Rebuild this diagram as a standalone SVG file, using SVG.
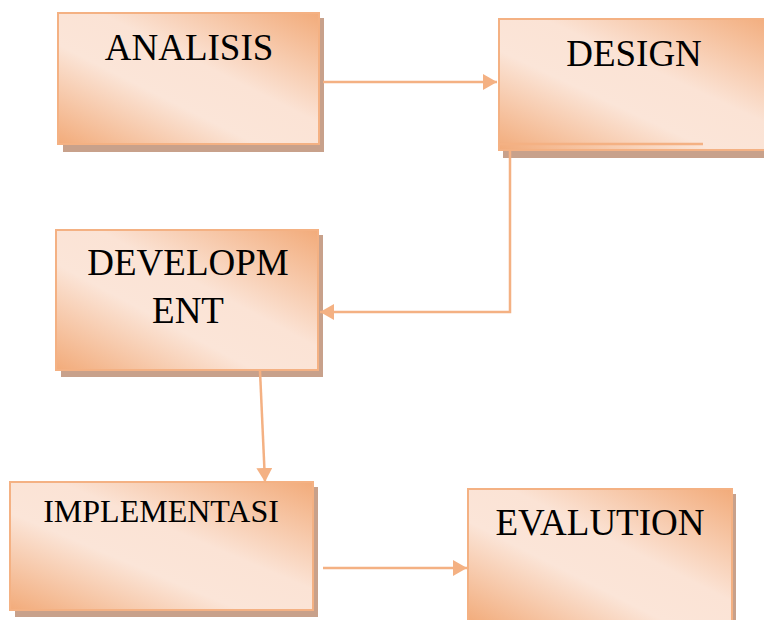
<svg xmlns="http://www.w3.org/2000/svg" width="764" height="620" viewBox="0 0 764 620">
  <defs>
    <!-- diagonal two-tone fill: orange corners, pale band through the middle -->
    <linearGradient id="boxFill" x1="1" y1="0" x2="0" y2="1">
      <stop offset="0" stop-color="#F2AB7A"/>
      <stop offset="0.42" stop-color="#FBE3D5"/>
      <stop offset="0.62" stop-color="#FBE5D8"/>
      <stop offset="1" stop-color="#F2AB7A"/>
    </linearGradient>
    <marker id="arrow" viewBox="0 0 14 16" refX="14" refY="8" markerWidth="14" markerHeight="16" markerUnits="userSpaceOnUse" orient="auto">
      <path d="M0,0 L14,8 L0,16 Z" fill="#F4B183"/>
    </marker>
  </defs>
  <style>
    .shadow { fill: #C8A18B; }
    .box { fill: url(#boxFill); stroke: #F4B183; stroke-width: 2; }
    .label { font-family: "Liberation Serif", "Times New Roman", serif; font-size: 37px; fill: #000; text-anchor: middle; }
    .small { font-size: 32px; }
    .conn { fill: none; stroke: #F4B183; stroke-width: 2.5; }
  </style>

  <rect width="764" height="620" fill="#FFFFFF"/>

  <g id="node-analisis">
    <rect class="shadow" x="63" y="18" width="261" height="134"/>
    <rect class="box" x="58" y="13" width="261" height="131"/>
    <text class="label" x="189" y="60">ANALISIS</text>
  </g>

  <g id="node-design">
    <rect class="shadow" x="503" y="24" width="280" height="134"/>
    <rect class="box" x="499" y="19" width="280" height="131"/>
    <text class="label" x="634" y="66">DESIGN</text>
  </g>

  <g id="node-development">
    <rect class="shadow" x="61" y="235" width="262" height="142"/>
    <rect class="box" x="56" y="230" width="262" height="140"/>
    <text class="label" x="188" y="275">DEVELOPM</text>
    <text class="label" x="188" y="323">ENT</text>
  </g>

  <g id="node-implementasi">
    <rect class="shadow" x="15" y="487" width="303" height="130"/>
    <rect class="box" x="10" y="482" width="303" height="128"/>
    <text class="label small" x="161" y="522">IMPLEMENTASI</text>
  </g>

  <g id="node-evalution">
    <rect class="shadow" x="472" y="494" width="264" height="134"/>
    <rect class="box" x="468" y="489" width="264" height="134"/>
    <text class="label" x="600" y="535">EVALUTION</text>
  </g>

  <g id="connectors">
    <line class="conn" x1="323" y1="82" x2="497" y2="82" marker-end="url(#arrow)"/>
    <line class="conn" x1="500" y1="144" x2="703" y2="144"/>
    <polyline class="conn" points="510,150 510,312 320,312" marker-end="url(#arrow)"/>
    <line class="conn" x1="260" y1="371" x2="265" y2="482" marker-end="url(#arrow)"/>
    <line class="conn" x1="323" y1="568" x2="467" y2="568" marker-end="url(#arrow)"/>
  </g>
</svg>
